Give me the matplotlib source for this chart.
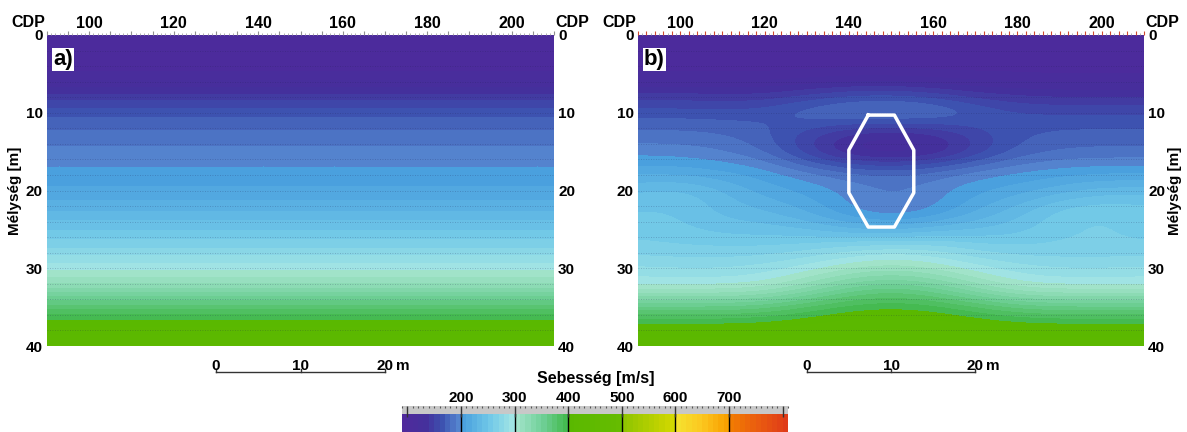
import numpy as np
import matplotlib.pyplot as plt
from matplotlib.colors import LinearSegmentedColormap, BoundaryNorm
from matplotlib.cm import ScalarMappable
from matplotlib.ticker import MultipleLocator, FuncFormatter

plt.rcParams['font.family'] = ['Liberation Sans', 'DejaVu Sans']
plt.rcParams['font.weight'] = 'bold'
plt.rcParams['axes.labelweight'] = 'bold'

# grid of the velocity models (cell centres)
depth = [0, 2.5, 5, 7.5, 10, 12.5, 15, 17.5, 20, 22.5, 25, 27.5, 30, 32.5, 35, 37.5, 40]
cdp = [90, 100, 110, 120, 130, 140, 150, 160, 170, 180, 190, 200, 210]

# a) layered starting model, one value per depth
vel_a = [100, 102, 108, 140, 168, 182, 193, 202, 212, 228, 250, 270, 298, 325, 380, 410, 435]

# b) inverted model, rows = depth, columns = cdp
vel_b = [
    [100, 100, 100, 100, 100, 100, 100, 100, 100, 100, 100, 100, 100],
    [102, 102, 102, 102, 102, 102, 102, 102, 102, 102, 102, 102, 102],
    [108, 108, 108, 108, 110, 112, 112, 110, 108, 108, 106, 106, 106],
    [142, 142, 140, 140, 148, 156, 158, 152, 142, 138, 136, 136, 136],
    [166, 166, 165, 168, 182, 192, 195, 190, 175, 162, 160, 160, 160],
    [182, 182, 180, 172, 155, 138, 132, 138, 155, 168, 172, 172, 172],
    [196, 195, 190, 180, 150, 122, 115, 122, 148, 172, 180, 182, 182],
    [215, 214, 210, 204, 192, 182, 178, 184, 194, 200, 204, 206, 206],
    [240, 245, 232, 215, 208, 198, 190, 196, 208, 215, 225, 235, 236],
    [250, 250, 236, 230, 218, 198, 186, 196, 218, 235, 255, 260, 256],
    [256, 252, 246, 245, 240, 230, 225, 235, 240, 246, 258, 262, 256],
    [264, 262, 262, 262, 268, 278, 285, 280, 268, 262, 262, 262, 262],
    [282, 280, 280, 285, 295, 308, 315, 308, 295, 285, 280, 280, 282],
    [300, 300, 300, 305, 325, 350, 362, 350, 325, 305, 300, 300, 300],
    [365, 365, 365, 370, 385, 398, 402, 398, 385, 370, 365, 365, 365],
    [408, 408, 408, 410, 414, 418, 420, 418, 414, 410, 408, 408, 408],
    [432, 432, 432, 432, 432, 432, 432, 432, 432, 432, 432, 432, 432],
]

# outline of the cavity in b)
hex_cdp = [144.6, 150.8, 155.4, 155.4, 150.8, 144.6, 140.0, 140.0, 144.6]
hex_depth = [10.3, 10.3, 14.8, 20.3, 24.7, 24.7, 20.3, 14.8, 10.3]

cbar_ticks = [200, 300, 400, 500, 600, 700]
cdp_labels = [100, 120, 140, 160, 180, 200]
depth_ticks = [0, 10, 20, 30, 40]
scale_m = [0, 10, 20]

# colour scale of the velocity bar
vmin, vmax = 90, 810
anchors = [(90, '#4f2a9c'), (130, '#45309c'), (160, '#3d52b0'), (199, '#5a90d6'),
           (200, '#4aa0de'), (250, '#70c8e8'), (299, '#a8e8e4'),
           (300, '#a4e4cc'), (350, '#70d098'), (399, '#40b848'),
           (400, '#5ab800'), (499, '#66bc00'),
           (500, '#8cc400'), (599, '#d4d800'),
           (600, '#f4e430'), (650, '#fcc820'), (699, '#f8a000'),
           (700, '#f28000'), (760, '#ea5a10'), (810, '#e03c18')]
cmap = LinearSegmentedColormap.from_list(
    'seb', [((v - vmin) / (vmax - vmin), c) for v, c in anchors], N=720)
norm = BoundaryNorm(np.arange(vmin, vmax + 1, 10), cmap.N)

W, H = 1187, 432
fig = plt.figure(figsize=(W / 100, H / 100), dpi=100)


def px(x0, y0, x1, y1):
    return [x0 / W, 1 - y1 / H, (x1 - x0) / W, (y1 - y0) / H]


def panel(rect, field, label, red_ticks, ylabel_side):
    ax = fig.add_axes(rect)
    ext = [cdp[0] - 5, cdp[-1] + 5, depth[-1] + 1.25, depth[0] - 1.25]
    ax.imshow(field, cmap=cmap, norm=norm, extent=ext, aspect='auto',
              interpolation='bicubic', interpolation_stage='data')
    ax.set_xlim(90, 210)
    ax.set_ylim(40, 0)
    for d in range(2, 40, 2):
        ax.axhline(d, color='#202050', lw=0.6, alpha=0.3, ls=(0, (1, 2)))
    for s in ax.spines.values():
        s.set_visible(False)

    # top CDP axis
    ax.xaxis.tick_top()
    ax.xaxis.set_major_locator(MultipleLocator(2 if red_ticks else 5))
    ax.xaxis.set_minor_locator(MultipleLocator(1))
    ax.xaxis.set_major_formatter(FuncFormatter(
        lambda v, p: '%d' % v if round(v) in cdp_labels and abs(v - round(v)) < 1e-6 else ''))
    ax.tick_params(axis='x', which='major', length=3, width=0.8, pad=0,
                   color='#d04a30' if red_ticks else '#909090', labelsize=11.5)
    ax.tick_params(axis='x', which='minor', length=1.5, width=0.6, color='#a0a0a0')

    # depth labels on both sides
    ax.set_yticks(depth_ticks)
    ax.tick_params(axis='y', length=0, pad=3, labelsize=11,
                   left=True, right=True, labelleft=True, labelright=True)

    for xa, ha in [(-0.004, 'right'), (1.003, 'left')]:
        ax.text(xa, 1.017, 'CDP', transform=ax.transAxes, ha=ha, va='bottom',
                fontsize=11.5)

    ax.text(0.012, 0.955, label, transform=ax.transAxes, ha='left', va='top',
            fontsize=16, bbox=dict(facecolor='white', edgecolor='none', pad=1))

    if ylabel_side == 'left':
        ax.set_ylabel('Mélység [m]', fontsize=11, labelpad=3)
    else:
        ax.yaxis.set_label_position('right')
        ax.set_ylabel('Mélység [m]', fontsize=11, labelpad=2, rotation=90)

    # scale bar (0.5 m per CDP)
    x0 = 130
    xs = [x0 + 2 * m for m in scale_m]
    ax.plot([xs[0], xs[-1]], [43.3, 43.3], color='#333333', lw=1, clip_on=False)
    for x, m in zip(xs, scale_m):
        ax.plot([x, x], [43.3, 42.9], color='#333333', lw=1, clip_on=False)
        ax.text(x, 42.6, str(m), ha='center', va='center', fontsize=11, clip_on=False)
    ax.text(xs[-1] + 2.5, 42.6, 'm', ha='left', va='center', fontsize=11, clip_on=False)
    return ax


ax_a = panel(px(47, 35, 554, 346), np.repeat(np.array(vel_a)[:, None], 2, axis=1),
             'a)', False, 'left')
ax_b = panel(px(638, 35, 1144, 346), np.array(vel_b), 'b)', True, 'right')
ax_b.plot(hex_cdp, hex_depth, color='white', lw=2.5)

# velocity colour bar
cax = fig.add_axes(px(402, 414, 788, 432))
cb = fig.colorbar(ScalarMappable(norm=norm, cmap=cmap), cax=cax, orientation='horizontal')
cb.outline.set_visible(False)
cax.set_xticks([])
for v in cbar_ticks:
    cax.axvline(v, color='black', lw=1)

sax = fig.add_axes(px(402, 406, 788, 414))
sax.set_facecolor('#c8c8c8')
sax.set_xlim(vmin, vmax)
sax.set_yticks([])
for s in sax.spines.values():
    s.set_visible(False)
sax.xaxis.tick_top()
sax.set_xticks([100] + cbar_ticks + [800])
sax.set_xticklabels([''] + [str(v) for v in cbar_ticks] + [''])
sax.xaxis.set_minor_locator(MultipleLocator(10))
sax.tick_params(axis='x', which='major', direction='in', length=8, width=1,
                color='#333333', pad=1, labelsize=11)
sax.tick_params(axis='x', which='minor', direction='in', length=1.5, width=0.8,
                color='#555555')

fig.text(596 / W, 1 - 378 / H, 'Sebesség [m/s]', ha='center', va='center', fontsize=11.5)

fig.savefig('out.png', dpi=100)
